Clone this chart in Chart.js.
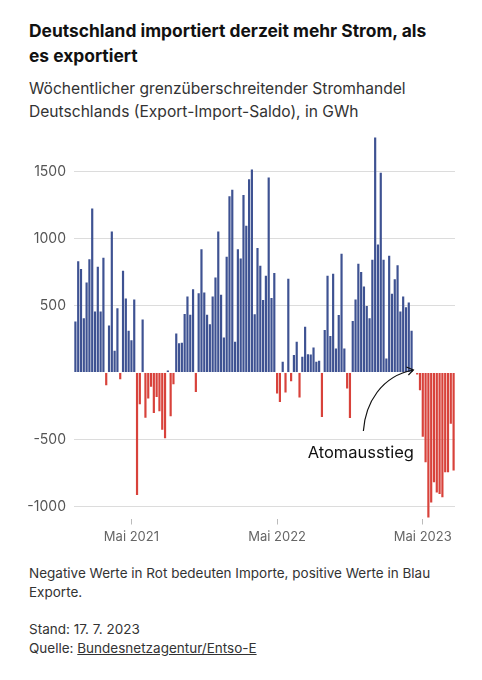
<!DOCTYPE html>
<html><head><meta charset="utf-8">
<script src="https://cdn.jsdelivr.net/npm/chart.js@4/dist/chart.umd.min.js"></script>
<style>
body{margin:0;background:#fff;font-family:Inter,"Noto Sans",sans-serif;color:#111;}
#wrap{position:relative;width:482px;height:680px;overflow:hidden}
h1{position:absolute;left:29px;top:18px;margin:0;font-size:17.4px;line-height:25px;font-weight:700;width:414px;color:#111}
.sub{position:absolute;left:29px;top:77px;font-size:15.6px;line-height:23px;color:#333;width:440px}
#cwrap{position:absolute;left:0;top:115px;width:482px;height:435px}
.note{position:absolute;left:29px;top:564px;font-size:13.5px;line-height:18.5px;color:#333;width:445px}
.src{position:absolute;left:29px;top:620px;font-size:13.5px;line-height:18.5px;color:#333}
.src a{color:#333;text-decoration:underline}
</style></head><body>
<div id="wrap">
<h1>Deutschland importiert derzeit mehr Strom, als es exportiert</h1>
<div class="sub">Wöchentlicher grenzüberschreitender Stromhandel Deutschlands (Export-Import-Saldo), in GWh</div>
<div id="cwrap"><canvas id="c" width="482" height="435"></canvas></div>
<div class="note">Negative Werte in Rot bedeuten Importe, positive Werte in Blau Exporte.</div>
<div class="src">Stand: 17. 7. 2023<br>Quelle: <a>Bundesnetzagentur/Entso-E</a></div>
</div>
<script>
// Weekly export-import balance (GWh), weeks starting 14.12.2020
const startWeek = '2020-12-14';
const saldo = [
 380, 830, 772, 405, 672, 845, 1225, 455, 790, 455,
 857, -95, 350, 1052, 162, 480, -50, 760, 552, 312,
 240, 545, -915, -237, 395, -337, -195, -107, -302, -182,
 -290, -427, -490, 15, -327, -87, 292, 218, 222, 437,
 567, 432, 622, -145, 592, 920, 598, 432, 360, 567,
 710, 1052, 580, 262, 865, 1315, 1365, 230, 920, 852,
 1325, 1095, 1442, 1515, 435, 930, 797, 542, 722, 1455,
 557, 742, -157, -220, 80, -150, 700, -65, 130, 230,
 -187, 117, 342, 137, 135, 187, 80, 87, -332, 317,
 722, 272, 737, 180, 430, 887, 180, -120, -340, 385,
 545, 812, 750, 642, 497, 405, 842, 1755, 955, 1492,
 842, 105, 872, 587, 697, 800, 455, 567, 487, 522,
 312, 0, -15, -132, -480, -670, -1082, -970, -820, -895,
 -907, -932, -745, -745, -382, -732
];
const tickIndex = [20, 72, 124];
const tickLabels = ['Mai 2021', 'Mai 2022', 'Mai 2023'];
const yTicks = [-1000, -500, 0, 500, 1000, 1500];
const eventIndex = 121;
const eventLabel = 'Atomausstieg';

const weeks = saldo.map((v, i) => {
  const d = new Date(startWeek + 'T00:00:00Z');
  d.setUTCDate(d.getUTCDate() + 7 * i);
  return d.toISOString().slice(0, 10);
});

const BLUE = '#3e5292', RED = '#d8423b';

const annot = {
  id: 'annot',
  afterDatasetsDraw(chart) {
    const {ctx, scales: {x, y}} = chart;
    const tx = x.getPixelForValue(eventIndex) - 1;
    const ty = y.getPixelForValue(0) - 2.5;
    ctx.save();
    ctx.strokeStyle = '#111';
    ctx.lineWidth = 1.2;
    ctx.beginPath();
    const sx = tx - 50, sy = ty + 61;
    ctx.moveTo(sx, sy);
    ctx.bezierCurveTo(sx + 2, sy - 28, sx + 18, sy - 55, tx, ty);
    ctx.stroke();
    ctx.beginPath();
    ctx.moveTo(tx - 7, ty - 3);
    ctx.lineTo(tx, ty);
    ctx.lineTo(tx - 5, ty + 5);
    ctx.stroke();
    ctx.fillStyle = '#111';
    ctx.font = '16.5px Inter, "Noto Sans", sans-serif';
    ctx.textAlign = 'right';
    ctx.textBaseline = 'middle';
    ctx.fillText(eventLabel, tx + 0.5, y.getPixelForValue(-600));
    ctx.restore();
  }
};

new Chart(document.getElementById('c'), {
  type: 'bar',
  data: {
    labels: weeks,
    datasets: [{
      data: saldo,
      backgroundColor: c => (c.raw < 0 ? RED : BLUE),
      borderWidth: 0,
      barPercentage: 0.78,
      categoryPercentage: 1.0
    }]
  },
  options: {
    responsive: false,
    animation: false,
    events: [],
    layout: {padding: {top: 6, right: 27, left: 0, bottom: 0}},
    plugins: {legend: {display: false}, tooltip: {enabled: false}},
    scales: {
      x: {
        border: {display: false},
        grid: {display: true, drawOnChartArea: false, drawTicks: true, tickLength: 6, color: '#bbb', offset: false},
        ticks: {
          autoSkip: false, maxRotation: 0, padding: 5,
          color: '#666', font: {size: 13, family: 'Inter, "Noto Sans", sans-serif'},
          callback: v => { const k = tickIndex.indexOf(v); return k >= 0 ? tickLabels[k] : ''; }
        },
        afterBuildTicks: s => { s.ticks = s.ticks.filter(t => tickIndex.includes(t.value)); },
        afterFit: s => { s.height = 31.5; }
      },
      y: {
        min: -1090, max: 1800,
        border: {display: false},
        grid: {drawTicks: false, color: c => (c.tick && c.tick.value === 0 ? 'rgba(0,0,0,0)' : '#dcdcdc')},
        ticks: {
          padding: 8, color: '#555', font: {size: 14, family: 'Inter, "Noto Sans", sans-serif'},
          callback: v => (v === 0 ? '' : String(v))
        },
        afterBuildTicks: s => { s.ticks = yTicks.map(v => ({value: v})); },
        afterFit: s => { s.width = 74; }
      }
    }
  },
  plugins: [annot]
});
</script>
</body></html>
